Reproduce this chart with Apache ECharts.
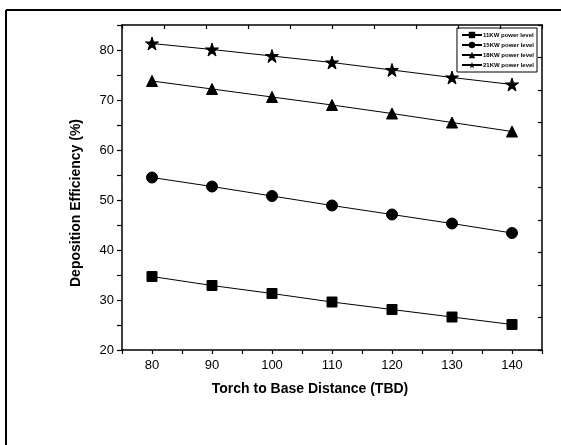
<!DOCTYPE html>
<html><head><meta charset="utf-8">
<script src="https://cdn.jsdelivr.net/npm/echarts@6/dist/echarts.min.js"></script>
<style>html,body{margin:0;padding:0;background:#fff}#c{width:561px;height:445px}</style>
</head><body><div id="c"></div>
<script>
const categories = [80, 90, 100, 110, 120, 130, 140];
const kw11 = [34.7, 32.9, 31.3, 29.6, 28.1, 26.6, 25.1];
const kw15 = [54.5, 52.7, 50.8, 48.9, 47.1, 45.3, 43.4];
const kw18 = [73.8, 72.2, 70.6, 69.0, 67.3, 65.5, 63.7];
const kw21 = [81.3, 80.1, 78.8, 77.5, 76.0, 74.5, 73.1];
const seriesNames = ['11KW power level', '15KW power level', '18KW power level', '21KW power level'];
const xTicks = [80, 90, 100, 110, 120, 130, 140];
const yTicks = [20, 30, 40, 50, 60, 70, 80];

const FONT = 'Liberation Sans, Arial, sans-serif';
const star = 'path://M50,0 L61.8,35.1 L98.9,35.1 L68.9,56.8 L80.3,91.9 L50,70.2 L19.7,91.9 L31.1,56.8 L1.1,35.1 L38.2,35.1 Z';
const symbols = ['rect', 'circle', 'triangle', star];
const sizes = [10, 11, 11, 13];
const datas = [kw11, kw15, kw18, kw21];

const chart = echarts.init(document.getElementById('c'));
chart.setOption({
  animation: false,
  backgroundColor: '#fff',
  textStyle: { fontFamily: FONT },
  grid: { left: 122, top: 25, right: 19, bottom: 95 },
  legend: {
    orient: 'vertical',
    right: 24, top: 28,
    itemWidth: 20, itemHeight: 8, itemGap: 2,
    padding: [3, 3, 3, 4],
    borderColor: '#000', borderWidth: 1,
    textStyle: { fontSize: 6, lineHeight: 8, fontWeight: 'bold', color: '#000', fontFamily: FONT, padding: [0, 0, 0, -4] },
    data: seriesNames
  },
  xAxis: [{
    type: 'value', min: 75, max: 145, interval: 5,
    axisLine: { lineStyle: { color: '#000', width: 1.5 } },
    axisTick: { length: 4, lineStyle: { color: '#000', width: 1.2 } },
    splitLine: { show: false },
    axisLabel: {
      color: '#000', fontSize: 13, fontFamily: FONT, margin: 9,
      formatter: v => xTicks.includes(v) ? String(v) : ''
    }
  }, {
    type: 'value', position: 'top', min: 0, max: 10, interval: 1,
    axisLine: { lineStyle: { color: '#000', width: 1.5 } },
    axisTick: { inside: true, length: 4, lineStyle: { color: '#000', width: 1.2 } },
    axisLabel: { show: false }, splitLine: { show: false }
  }],
  yAxis: [{
    type: 'value', min: 20, max: 85, interval: 5,
    axisLine: { lineStyle: { color: '#000', width: 1.5 } },
    axisTick: { length: 5, lineStyle: { color: '#000', width: 1.2 } },
    splitLine: { show: false },
    axisLabel: {
      color: '#000', fontSize: 13, fontFamily: FONT, margin: 8,
      formatter: v => yTicks.includes(v) ? String(v) : ''
    }
  }, {
    type: 'value', position: 'right', min: 0, max: 10, interval: 1,
    axisLine: { show: true, lineStyle: { color: '#000', width: 1.5 } },
    axisTick: { show: true, inside: true, length: 4, lineStyle: { color: '#000', width: 1.2 } },
    axisLabel: { show: false }, splitLine: { show: false }
  }],
  series: datas.map((d, i) => ({
    name: seriesNames[i],
    type: 'line',
    xAxisIndex: 0, yAxisIndex: 0,
    data: categories.map((c, j) => [c, d[j]]),
    symbol: symbols[i],
    symbolSize: sizes[i],
    lineStyle: { color: '#000', width: 1 },
    itemStyle: { color: '#000', borderColor: '#000' },
    emphasis: { disabled: true }
  })),
  graphic: [
    { type: 'line', shape: { x1: 6, y1: 10, x2: 561, y2: 10 }, style: { stroke: '#000', lineWidth: 2 } },
    { type: 'line', shape: { x1: 6, y1: 10, x2: 6, y2: 445 }, style: { stroke: '#000', lineWidth: 2 } },
    { type: 'text', x: 310, y: 389, style: { text: 'Torch to Base Distance (TBD)', font: 'bold 14px ' + FONT, fill: '#000', align: 'center', verticalAlign: 'middle' } },
    { type: 'text', x: 76, y: 203, rotation: Math.PI / 2, style: { text: 'Deposition Efficiency (%)', font: 'bold 14px ' + FONT, fill: '#000', align: 'center', verticalAlign: 'middle' } }
  ]
});
</script></body></html>
